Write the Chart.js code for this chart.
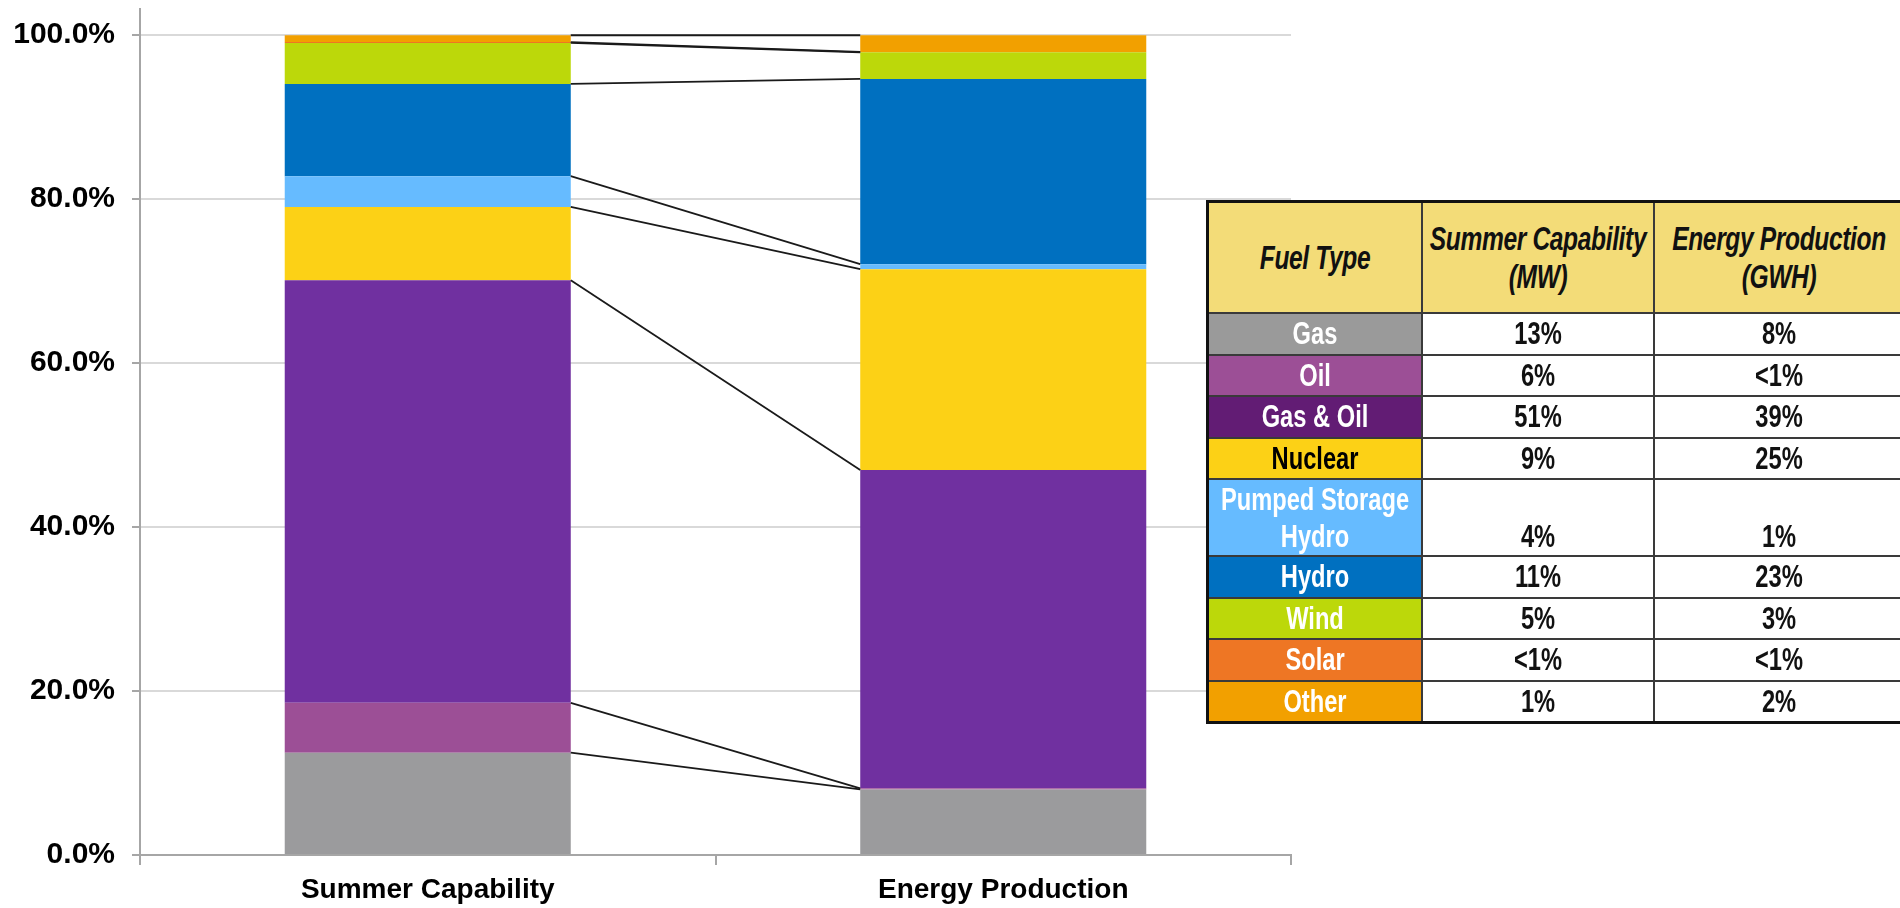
<!DOCTYPE html>
<html>
<head>
<meta charset="utf-8">
<title>Summer Capability vs Energy Production</title>
<script src="https://cdn.jsdelivr.net/npm/chart.js@4.4.1/dist/chart.umd.min.js"></script>
<style>
  body { margin: 0; background: #fff; overflow: hidden; }
  #wrap { position: relative; width: 1900px; height: 908px; overflow: hidden; }
  #chart { position: absolute; left: 0; top: 0; }
  #fuel-table {
    position: absolute; left: 1206px; top: 200px; width: 698px;
    border-collapse: collapse; table-layout: fixed;
    font-family: 'Liberation Sans', sans-serif;
    font-weight: bold; font-size: 32px; color: #111;
    border: 3px solid #111;
  }
  #fuel-table td, #fuel-table th {
    border: 2px solid #3a3a3a; text-align: center; padding: 0; line-height: 1.15;
    overflow: visible; white-space: nowrap;
  }
  #fuel-table th {
    background: #F3DC78; font-style: italic; height: 109px; font-size: 33px;
  }
  #fuel-table .ln {
    display: block; width: max-content; position: relative; left: 50%;
    transform: translateX(-50%) scaleX(0.74); transform-origin: center;
  }
  #fuel-table th .ln { transform: translateX(-50%) scaleX(0.745); letter-spacing: -0.5px; }
  #fuel-table td.label { color: #fff; }
  #fuel-table tr.row td { height: 39.5px; }
  #fuel-table tr.tall td { height: 75px; }
  #fuel-table tr.tall td.val { vertical-align: bottom; }
</style>
</head>
<body>
<div id="wrap">
  <canvas id="chart" width="1900" height="908"></canvas>
  <table id="fuel-table">
    <colgroup><col style="width:214px"><col style="width:232px"><col style="width:252px"></colgroup>
    <thead><tr id="head-row"></tr></thead>
    <tbody id="table-body"></tbody>
  </table>
</div>
<script>
// stapelvolgorde van onder naar boven
const categories = ['Summer Capability', 'Energy Production'];
const fuelTypes = ['Gas', 'Oil', 'Gas & Oil', 'Nuclear', 'Pumped Storage Hydro', 'Hydro', 'Wind', 'Solar', 'Other'];
const summerCapability = [12.48, 6.09, 51.55, 8.94, 3.74, 11.26, 5.0, 0.1, 0.84];
const energyProduction = [8.0, 0.13, 38.82, 24.51, 0.61, 22.6, 3.24, 0.05, 2.04];
const summerShareLabels = ['13%', '6%', '51%', '9%', '4%', '11%', '5%', '<1%', '1%'];
const energyShareLabels = ['8%', '<1%', '39%', '25%', '1%', '23%', '3%', '<1%', '2%'];
const tableHeaders = [['Fuel Type'], ['Summer Capability', '(MW)'], ['Energy Production', '(GWH)']];
const yTicks = [0, 20, 40, 60, 80, 100];

const barColors = ['#9B9B9D', '#9C4F96', '#7030A0', '#FCD116', '#66BBFF', '#0070C0', '#BCD80A', '#EE7624', '#F2A000'];
const cellColors = ['#9A9A9A', '#9C4F96', '#621C74', '#FCD116', '#66BBFF', '#0070C0', '#BCD80A', '#EE7624', '#F2A000'];

// tekst in smalle regels zetten (geen smalle font beschikbaar)
function fillLines(cell, lines) {
    lines.forEach(t => {
        const s = document.createElement('span');
        s.className = 'ln';
        s.textContent = t;
        cell.appendChild(s);
    });
}

// tabel rechts
const headRow = document.getElementById('head-row');
tableHeaders.forEach(h => {
    const th = document.createElement('th');
    fillLines(th, h);
    headRow.appendChild(th);
});
const body = document.getElementById('table-body');
fuelTypes.forEach((f, i) => {
    const tr = document.createElement('tr');
    const tall = f === 'Pumped Storage Hydro';
    tr.className = tall ? 'tall' : 'row';
    const lab = document.createElement('td');
    lab.className = 'label';
    fillLines(lab, tall ? ['Pumped Storage', 'Hydro'] : [f]);
    lab.style.background = cellColors[i];
    if (f === 'Nuclear') lab.style.color = '#000';
    tr.appendChild(lab);
    [summerShareLabels[i], energyShareLabels[i]].forEach(v => {
        const td = document.createElement('td');
        td.className = 'val';
        fillLines(td, [v]);
        tr.appendChild(td);
    });
    body.appendChild(tr);
});

// verbindingslijnen tussen de bovenkanten van de segmenten
const seriesLines = {
    id: 'seriesLines',
    afterDatasetsDraw(chart) {
        const ctx = chart.ctx;
        ctx.save();
        ctx.strokeStyle = '#1a1a1a';
        ctx.lineWidth = 1.8;
        chart.data.datasets.forEach((ds, i) => {
            const meta = chart.getDatasetMeta(i);
            const a = meta.data[0].getProps(['x', 'y', 'width'], true);
            const b = meta.data[1].getProps(['x', 'y', 'width'], true);
            ctx.beginPath();
            ctx.moveTo(a.x + a.width / 2, a.y);
            ctx.lineTo(b.x - b.width / 2, b.y);
            ctx.stroke();
        });
        ctx.restore();
    }
};

const ctx = document.getElementById('chart').getContext('2d');
new Chart(ctx, {
    type: 'bar',
    data: {
        labels: categories,
        datasets: fuelTypes.map((f, i) => ({
            label: f,
            data: [summerCapability[i], energyProduction[i]],
            backgroundColor: barColors[i],
            borderWidth: 0,
            categoryPercentage: 1,
            barPercentage: 0.497
        }))
    },
    options: {
        responsive: false,
        animation: false,
        devicePixelRatio: 1,
        layout: { padding: { top: 9, right: 609, bottom: 0, left: 0 } },
        plugins: { legend: { display: false }, tooltip: { enabled: false } },
        scales: {
            x: {
                stacked: true,
                border: { color: '#A6A6A6', width: 2 },
                grid: { offset: true, drawOnChartArea: false, tickLength: 10, tickColor: '#A6A6A6', lineWidth: 2 },
                ticks: {
                    color: '#000', padding: 8,
                    font: { family: 'Liberation Sans', weight: 'bold', size: 28 }
                },
                afterFit: s => { s.height = 53; }
            },
            y: {
                stacked: true,
                min: 0,
                max: 103.2,
                border: { color: '#A6A6A6', width: 2 },
                grid: { color: '#D9D9D9', lineWidth: 2, tickLength: 8, tickColor: '#A6A6A6' },
                afterBuildTicks: s => { s.ticks = yTicks.map(v => ({ value: v })); },
                ticks: {
                    color: '#000', padding: 17,
                    font: { family: 'Liberation Sans', weight: 'bold', size: 30 },
                    callback: v => v.toFixed(1) + '%'
                },
                afterFit: s => { s.width = 140; s.paddingTop = 0; s.paddingBottom = 0; }
            }
        }
    },
    plugins: [seriesLines]
});
</script>
</body>
</html>
